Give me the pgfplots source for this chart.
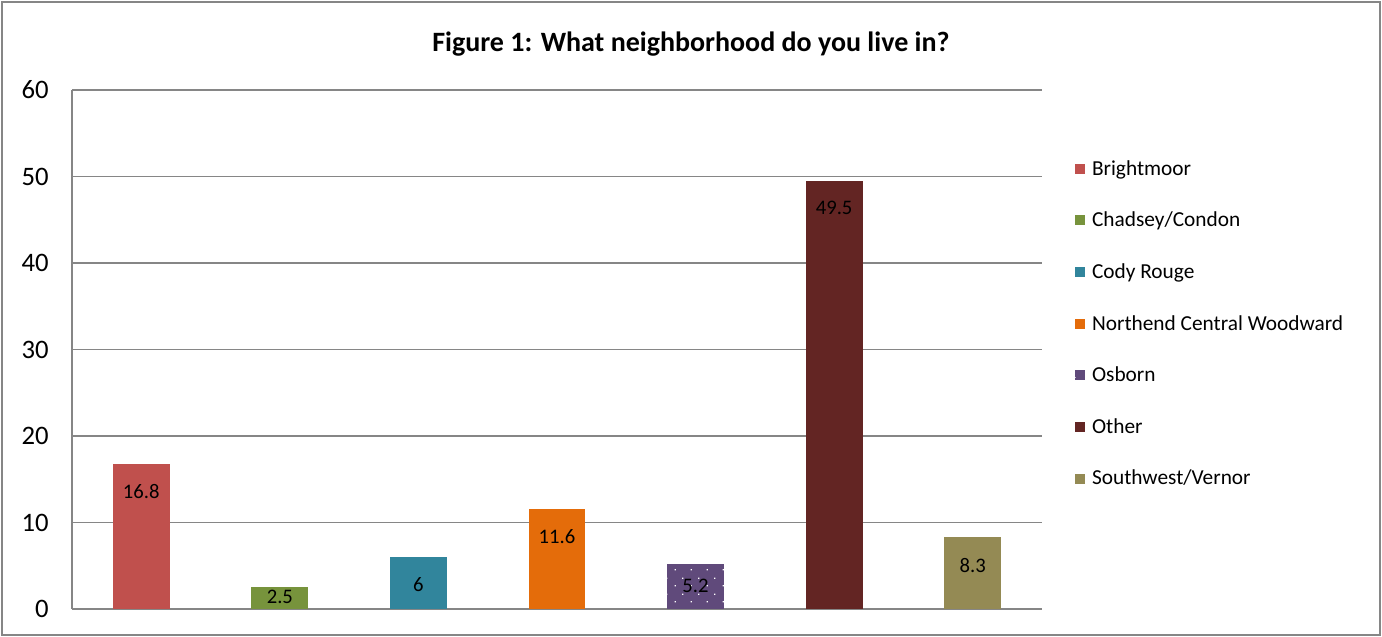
\documentclass[border=0pt]{standalone}
\usepackage{fontspec}
\setmainfont{Carlito}
\usepackage{pgfplots}
\pgfplotsset{compat=1.18}
\usetikzlibrary{patterns.meta}
\tikzdeclarepattern{name=sparsedots, type=uncolored, bottom left={(0pt,0pt)}, top right={(12pt,12pt)}, tile size={(12pt,12pt)}, code={\fill (2pt,2pt) rectangle (3pt,3pt); \fill (8pt,8pt) rectangle (9pt,9pt);}}
\definecolor{cA}{HTML}{C0504D}
\definecolor{cB}{HTML}{77933C}
\definecolor{cC}{HTML}{31859C}
\definecolor{cD}{HTML}{E46C0A}
\definecolor{cE}{HTML}{604A7B}
\definecolor{cF}{HTML}{632523}
\definecolor{cG}{HTML}{948A54}
\definecolor{gridc}{HTML}{868686}
\begin{document}
\begin{tikzpicture}
\begin{axis}[
  scale only axis,
  width=727.5pt, height=389.25pt,
  xmin=-0.5, xmax=6.5, ymin=0, ymax=60,
  ytick={0,10,...,60},
  xtick=\empty,
  ybar, bar shift=0pt, bar width=0.411,
  axis x line*=bottom, axis y line*=left,
  axis line style={gridc, line width=0.8pt, -},
  ymajorgrids, major grid style={gridc, line width=0.8pt},
  major tick length=0pt,
  /pgf/number format/assume math mode=true,
  /pgf/number format/.cd, fixed, precision=1, /pgfplots/.cd,
  yticklabel style={font=\fontsize{20}{23}\selectfont, xshift=-14pt},
  clip=false,
  nodes near coords,
  every node near coord/.append style={font=\fontsize{15.5}{18}\selectfont, black, anchor=north, yshift=-12pt},
  legend style={at={(1.03,0.875)}, anchor=north west, draw=none, fill=none,
    font=\fontsize{16}{19}\selectfont, row sep=22.1pt, cells={anchor=west}},
  legend image code/.code={\fill[#1] (0pt,-3.75pt) rectangle (7.5pt,3.75pt);},
]
\addplot[fill=cA, draw=none] coordinates {(0,16.8)};
\addlegendentry{\hspace{3pt}Brightmoor}
\addplot[fill=cB, draw=none, every node near coord/.append style={anchor=center, yshift=4.5pt}] coordinates {(1,2.5)};
\addlegendentry{\hspace{3pt}Chadsey/Condon}
\addplot[fill=cC, draw=none] coordinates {(2,6)};
\addlegendentry{\hspace{3pt}Cody Rouge}
\addplot[fill=cD, draw=none] coordinates {(3,11.6)};
\addlegendentry{\hspace{3pt}Northend Central Woodward}
\addplot[fill=cE, draw=none, postaction={pattern=sparsedots, pattern color=white}, every node near coord/.append style={yshift=4pt}] coordinates {(4,5.2)};
\addlegendentry{\hspace{3pt}Osborn}
\addplot[fill=cF, draw=none] coordinates {(5,49.5)};
\addlegendentry{\hspace{3pt}Other}
\addplot[fill=cG, draw=none] coordinates {(6,8.3)};
\addlegendentry{\hspace{3pt}Southwest/Vernor}
\node[font=\bfseries\fontsize{21}{25}\selectfont] at (rel axis cs:0.638,1.0886) {Figure 1: What neighborhood do you live in?};
\draw[gridc, line width=1pt] (rel axis cs:-0.0722,-0.0501) rectangle (rel axis cs:1.3485,1.1696);
\path[use as bounding box] (rel axis cs:-0.07423,-0.05395) rectangle (rel axis cs:1.35052,1.17341);
\end{axis}
\end{tikzpicture}
\end{document}
